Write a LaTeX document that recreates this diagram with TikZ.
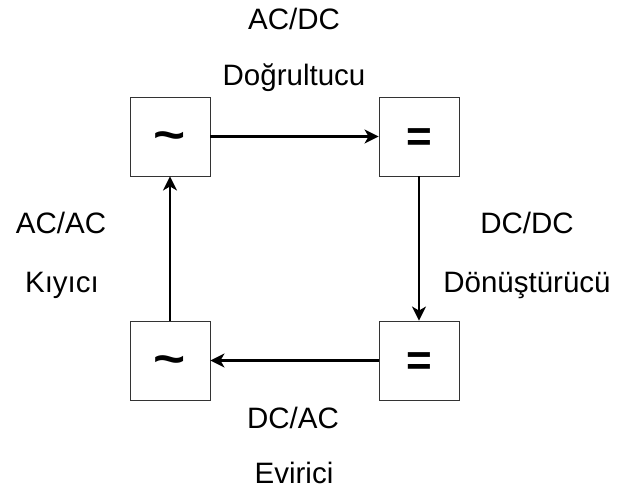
\documentclass[tikz,border=0pt]{standalone}
\usepackage{fontspec}
\setmainfont{Liberation Sans}
\usetikzlibrary{arrows.meta}
\newcommand{\cglyph}[1]{\raisebox{-0.33em}[0pt][0pt]{#1}}
\newcommand{\wtilde}{\raisebox{-0.33em}[0pt][0pt]{\scalebox{1.25}[1.1]{\textasciitilde}}}
\begin{document}
\begin{tikzpicture}[x=1pt,y=-1pt,
  conv/.style={draw=black!80,line width=0.9pt,minimum width=80pt,minimum height=79pt,inner sep=0pt,font=\fontsize{44}{44}\selectfont\bfseries},
  lbl/.style={anchor=base,inner sep=0pt,font=\fontsize{29.5}{30}\selectfont},
  flow/.style={line width=2.3pt,-{Stealth[length=14pt,width=14pt,inset=4pt]}}]
\useasboundingbox (0,0) rectangle (621,493);
\node[conv] (tl) at (170,136.5) {\wtilde};
\node[conv] (tr) at (419,136.5) {\cglyph{=}};
\node[conv] (bl) at (170,360.5) {\wtilde};
\node[conv] (br) at (419,360.5) {\cglyph{=}};
\draw[flow] (tl.east) -- (tr.west);
\draw[flow] (tr.south) -- (br.north);
\draw[flow] (br.west) -- (bl.east);
\draw[flow] (bl.north) -- (tl.south);
\node[lbl] (t1) at (294,29) {AC/DC};
\node[lbl] (t2) at (294,85) {Doğrultucu};
\node[lbl] (l1) at (61,233) {AC/AC};
\node[lbl] (l2) at (62,292) {Kıyıcı};
\node[lbl] (r1) at (527,233) {DC/DC};
\node[lbl] (r2) at (527,292) {Dönüştürücü};
\node[lbl] (b1) at (293,428) {DC/AC};
\node[lbl] (b2) at (294,483) {Evirici};
\end{tikzpicture}
\end{document}
